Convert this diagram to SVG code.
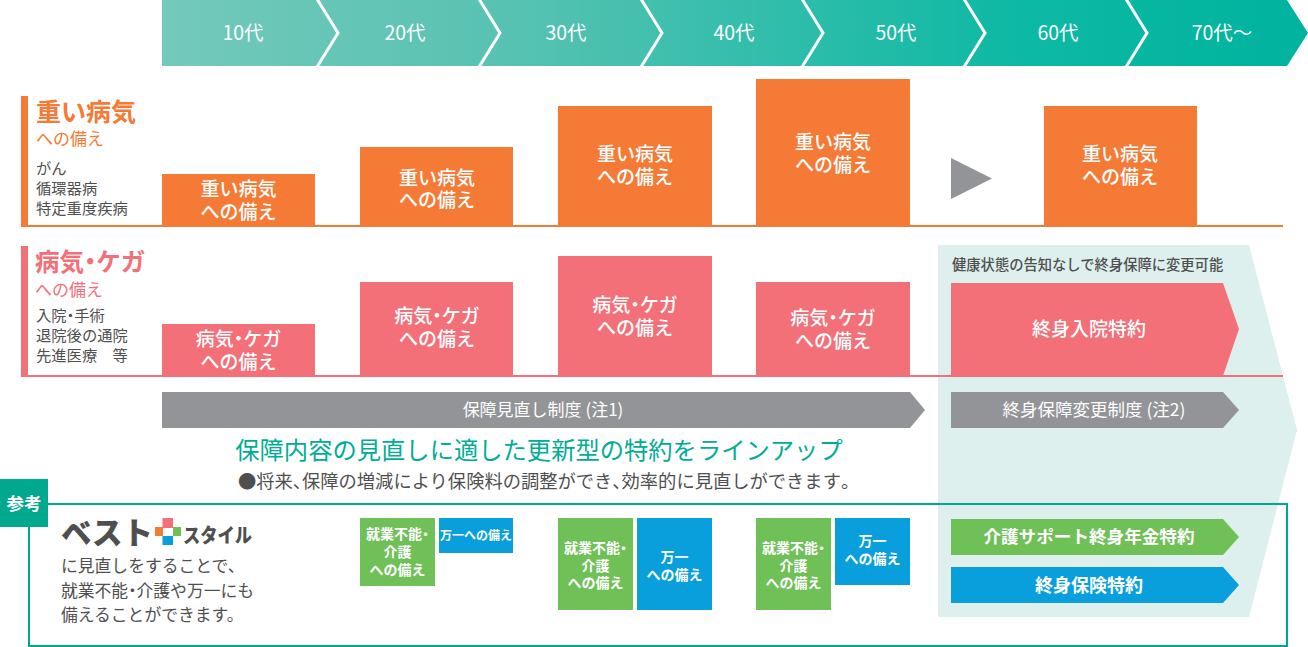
<svg xmlns="http://www.w3.org/2000/svg" width="1308" height="647" viewBox="0 0 1308 647">
<style>
text{font-family:"Noto Sans CJK JP","Noto Sans",sans-serif}
.w{fill:#fff;text-anchor:middle}
.age{font-size:19.500px}
.b{font-size:19px;font-weight:500}
.or{fill:#f57a36}.pk{fill:#f37079}.gy{fill:#939498}.gr{fill:#70c058}.bl{fill:#089fdc}
.d{fill:#4f4f4f}
.s14{font-size:15.300px}
.s15{font-size:16.800px}
.sm{font-size:14px;font-weight:700}
.p{font-feature-settings:"palt"}
.sep{fill:none;stroke:#fff;stroke-width:3}
</style>
<defs><linearGradient id="band" x1="0" x2="1" y1="0" y2="0"><stop offset="0" stop-color="#73c9bb"/><stop offset=".3" stop-color="#58c2b2"/><stop offset=".75" stop-color="#0cb9a4"/><stop offset="1" stop-color="#00b39e"/></linearGradient></defs>

<g id="panel-lifelong"><polygon points="938,245 1249,245 1297,430 1249,617 938,617" fill="#def0ee"/></g>

<g id="age-band">
<polygon points="162,0 1287,0 1308,33 1287,66 162,66" fill="url(#band)"/>
<text class="w age" x="243" y="40">10代</text>
<text class="w age" x="405" y="40">20代</text>
<text class="w age" x="566" y="40">30代</text>
<text class="w age" x="734" y="40">40代</text>
<text class="w age" x="896" y="40">50代</text>
<text class="w age" x="1058" y="40">60代</text>
<text class="w age" x="1222" y="40">70代〜</text>
</g>
<g id="connectors">
<path class="sep" d="M317,-1 L338,33 L317,67"/>
<path class="sep" d="M479,-1 L500,33 L479,67"/>
<path class="sep" d="M641,-1 L662,33 L641,67"/>
<path class="sep" d="M802,-1 L823,33 L802,67"/>
<path class="sep" d="M964,-1 L985,33 L964,67"/>
<path class="sep" d="M1126,-1 L1147,33 L1126,67"/>
<rect class="or" x="21" y="225" width="1262" height="2"/>
<rect class="pk" x="21" y="375" width="1262" height="2"/>
<polygon class="gy" points="951,158 992,178.500 951,199"/>
</g>

<g id="heading-major">
<rect class="or" x="21" y="96" width="7" height="131"/>
<text class="or"><tspan x="36" y="121" font-size="25" font-weight="700">重い病気</tspan><tspan x="36" y="145" font-size="17">への備え</tspan></text>
<text class="d s14"><tspan x="36" y="174">がん</tspan><tspan x="36" y="194">循環器病</tspan><tspan x="36" y="214">特定重度疾病</tspan></text>
</g>
<g id="major-10"><rect class="or" x="162" y="174" width="153" height="53"/><text class="w b"><tspan x="238.500" y="196">重い病気</tspan><tspan x="238.500" y="219">への備え</tspan></text></g>
<g id="major-20"><rect class="or" x="360" y="147" width="153" height="80"/><text class="w b"><tspan x="437" y="185">重い病気</tspan><tspan x="437" y="207">への備え</tspan></text></g>
<g id="major-30"><rect class="or" x="558" y="106" width="154" height="121"/><text class="w b"><tspan x="635" y="161">重い病気</tspan><tspan x="635" y="184">への備え</tspan></text></g>
<g id="major-40"><rect class="or" x="756" y="79" width="154" height="148"/><text class="w b"><tspan x="833" y="149">重い病気</tspan><tspan x="833" y="172">への備え</tspan></text></g>
<g id="major-60"><rect class="or" x="1044" y="106" width="153" height="121"/><text class="w b"><tspan x="1120" y="161">重い病気</tspan><tspan x="1120" y="184">への備え</tspan></text></g>

<g id="heading-injury">
<rect class="pk" x="21" y="246" width="7" height="131"/>
<text class="pk"><tspan x="35" y="271" font-size="24.500" font-weight="700">病気<tspan class="p">・</tspan>ケガ</tspan><tspan x="35" y="296" font-size="17">への備え</tspan></text>
<text class="d s14"><tspan x="36" y="321">入院<tspan class="p">・</tspan>手術</tspan><tspan x="36" y="341">退院後の通院</tspan><tspan x="36" y="361">先進医療　等</tspan></text>
</g>
<g id="injury-10"><rect class="pk" x="162" y="324" width="153" height="53"/><text class="w b"><tspan x="238.500" y="346">病気<tspan class="p">・</tspan>ケガ</tspan><tspan x="238.500" y="369">への備え</tspan></text></g>
<g id="injury-20"><rect class="pk" x="360" y="282" width="153" height="95"/><text class="w b"><tspan x="437" y="323">病気<tspan class="p">・</tspan>ケガ</tspan><tspan x="437" y="346">への備え</tspan></text></g>
<g id="injury-30"><rect class="pk" x="558" y="256" width="154" height="121"/><text class="w b"><tspan x="635" y="312">病気<tspan class="p">・</tspan>ケガ</tspan><tspan x="635" y="335">への備え</tspan></text></g>
<g id="injury-40"><rect class="pk" x="756" y="282" width="154" height="95"/><text class="w b"><tspan x="833" y="325">病気<tspan class="p">・</tspan>ケガ</tspan><tspan x="833" y="348">への備え</tspan></text></g>

<g id="lifelong-hospital">
<text class="d" x="952" y="270" font-size="14.300" font-weight="500">健康状態の告知なしで終身保障に変更可能</text>
<polygon class="pk" points="951,283 1223,283 1239,329 1223,376 951,376"/>
<text class="w b" x="1089" y="336">終身入院特約</text>
</g>
<g id="review-system"><polygon class="gy" points="162,392 910,392 925,410 910,428 162,428"/><text class="w" x="543" y="416" font-size="17">保障見直し制度 (注1)</text></g>
<g id="change-system"><polygon class="gy" points="951,392 1223,392 1239,410 1223,428 951,428"/><text class="w" x="1094" y="416" font-size="17.500">終身保障変更制度 (注2)</text></g>

<g id="lineup-message">
<text x="539" y="459" font-size="24.300" fill="#00ad95" text-anchor="middle">保障内容の見直しに適した更新型の特約をラインアップ</text>
<text class="d" x="238" y="488" font-size="18.300">●将来<tspan class="p">、</tspan>保障の増減により保険料の調整ができ<tspan class="p">、</tspan>効率的に見直しができます<tspan class="p">。</tspan></text>
</g>

<g id="reference-frame">
<rect x="29" y="504" width="1258" height="142" fill="none" stroke="#00a88e" stroke-width="2"/>
<rect x="0" y="479" width="48" height="48" fill="#00a88e"/>
<text class="w" x="24" y="510" font-size="17.500" font-weight="700">参考</text>
</g>
<g id="best-style-logo">
<text x="61" y="544" font-size="31" font-weight="900" fill="#4f4f4f" textLength="92" lengthAdjust="spacingAndGlyphs">ベスト</text>
<rect x="162.500" y="518" width="10.500" height="10" class="pk"/>
<rect x="155" y="527" width="8" height="9" class="or"/>
<rect x="173" y="527" width="8" height="9" class="gr"/>
<rect x="162.500" y="536" width="10.500" height="9" class="bl"/>
<text x="183" y="543" font-size="20" font-weight="900" fill="#4f4f4f" textLength="69" lengthAdjust="spacingAndGlyphs">スタイル</text>
</g>
<g id="best-style-text">
<text class="d s15"><tspan x="61" y="572">に見直しをすることで、</tspan><tspan x="61" y="597">就業不能<tspan class="p">・</tspan>介護や万一にも</tspan><tspan x="61" y="621">備えることができます。</tspan></text>
</g>

<g id="disability-20"><rect class="gr" x="360" y="518" width="75" height="68"/><text class="w sm"><tspan x="397.500" y="539">就業不能<tspan class="p">・</tspan></tspan><tspan x="397.500" y="557">介護</tspan><tspan x="397.500" y="575">への備え</tspan></text></g>
<g id="death-20"><rect class="bl" x="439" y="518" width="74" height="35"/><text class="w sm" x="476" y="540" style="font-size:12px">万一への備え</text></g>
<g id="disability-30"><rect class="gr" x="558" y="518" width="75" height="92"/><text class="w sm"><tspan x="595.500" y="553">就業不能<tspan class="p">・</tspan></tspan><tspan x="595.500" y="571">介護</tspan><tspan x="595.500" y="588">への備え</tspan></text></g>
<g id="death-30"><rect class="bl" x="637" y="518" width="75" height="92"/><text class="w sm"><tspan x="674.500" y="562">万一</tspan><tspan x="674.500" y="580">への備え</tspan></text></g>
<g id="disability-40"><rect class="gr" x="756" y="518" width="75" height="92"/><text class="w sm"><tspan x="793.500" y="553">就業不能<tspan class="p">・</tspan></tspan><tspan x="793.500" y="571">介護</tspan><tspan x="793.500" y="588">への備え</tspan></text></g>
<g id="death-40"><rect class="bl" x="835" y="518" width="75" height="67"/><text class="w sm"><tspan x="872.500" y="546">万一</tspan><tspan x="872.500" y="564">への備え</tspan></text></g>
<g id="care-annuity"><polygon class="gr" points="951,519 1223,519 1239,537 1223,555 951,555"/><text class="w" x="1089" y="543" font-size="17.600" font-weight="700">介護サポート終身年金特約</text></g>
<g id="lifelong-insurance"><polygon class="bl" points="951,567 1223,567 1239,585 1223,603 951,603"/><text class="w" x="1089" y="592" font-size="18" font-weight="700">終身保険特約</text></g>
</svg>
